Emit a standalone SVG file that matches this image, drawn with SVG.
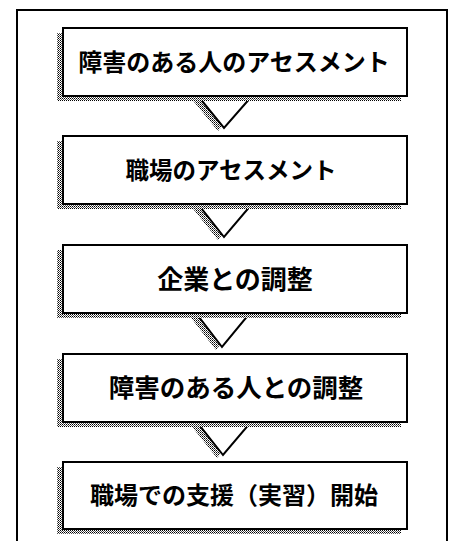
<svg xmlns="http://www.w3.org/2000/svg" width="449" height="541" viewBox="0 0 449 541">
<style>
.box{fill:#fff;stroke:#000;stroke-width:2}
.shadow{fill:url(#dither)}
.label{font-family:"Noto Sans CJK JP","Noto Sans CJK SC",sans-serif;font-size:24px;font-weight:bold;fill:#000;text-anchor:middle}
.arrow{fill:#fff;stroke:#000;stroke-width:2;stroke-linejoin:miter}
.frame{fill:none;stroke:#000;stroke-width:2}
</style>
<defs>
<pattern id="dither" width="2" height="2" patternUnits="userSpaceOnUse">
<rect width="2" height="2" fill="#fff"/>
<rect x="0" y="0" width="1" height="1" fill="#000"/>
<rect x="1" y="1" width="1" height="1" fill="#555"/>
</pattern>
</defs>
<rect width="449" height="541" fill="#fff"/>
<path class="frame" d="M17,541 V10 H447 V541"/>
<g id="connectors">
<polygon class="shadow" points="190,97 246,97 218,131"/>
<polygon class="arrow" points="198,96 252,96 224,128"/>
<polygon class="shadow" points="190,205 246,205 218,240"/>
<polygon class="arrow" points="198,204 252,204 224,237"/>
<polygon class="shadow" points="188,314 244,314 216,350"/>
<polygon class="arrow" points="196,313 250,313 222,347"/>
<polygon class="shadow" points="189,423 245,423 217,458"/>
<polygon class="arrow" points="197,422 251,422 223,455"/>
</g>
<g id="node1">
<rect class="shadow" x="57" y="33" width="344" height="68"/>
<rect class="box" x="63" y="28" width="344" height="68"/>
<text class="label" x="234" y="71">障害のある人のアセスメント</text>
</g>
<g id="node2">
<rect class="shadow" x="57" y="141" width="344" height="68"/>
<rect class="box" x="63" y="136" width="344" height="68"/>
<text class="label" x="231" y="179" style="font-size:23.5px">職場のアセスメント</text>
</g>
<g id="node3">
<rect class="shadow" x="57" y="250" width="344" height="68"/>
<rect class="box" x="63" y="245" width="344" height="68"/>
<text class="label" x="235" y="289" style="font-size:26px">企業との調整</text>
</g>
<g id="node4">
<rect class="shadow" x="57" y="359" width="344" height="68"/>
<rect class="box" x="63" y="354" width="344" height="68"/>
<text class="label" x="236" y="397" style="font-size:25.5px">障害のある人との調整</text>
</g>
<g id="node5">
<rect class="shadow" x="57" y="467" width="344" height="67"/>
<rect class="box" x="63" y="462" width="344" height="67"/>
<text class="label" x="234" y="504">職場での支援（実習）開始</text>
</g>
</svg>
